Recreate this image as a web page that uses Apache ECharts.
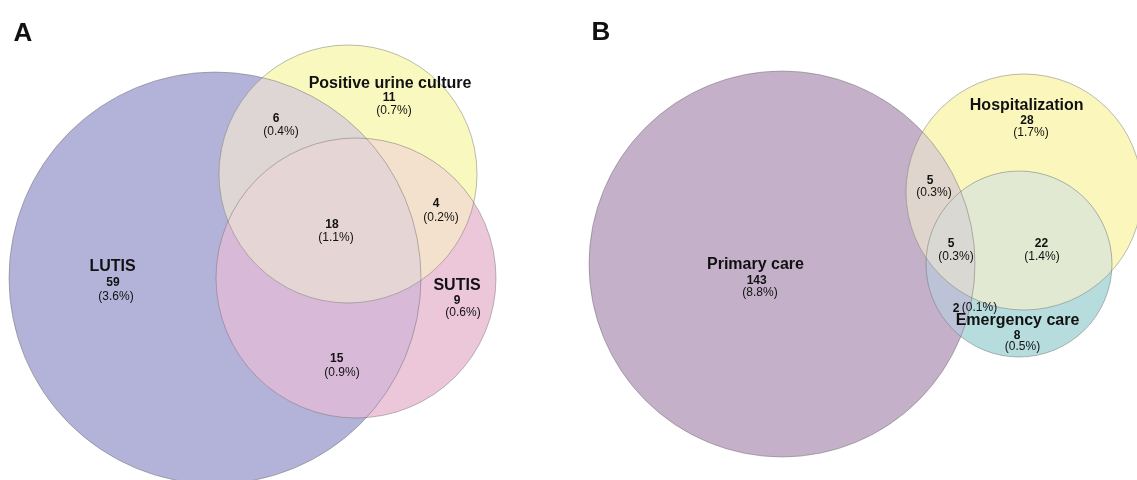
<!DOCTYPE html>
<html><head><meta charset="utf-8">
<script src="https://cdn.jsdelivr.net/npm/echarts@6/dist/echarts.min.js"></script>
<style>html,body{margin:0;padding:0;background:#fff}#c{width:1137px;height:480px}</style>
</head><body><div id="c"></div>
<script>
// ---------------- DATA ----------------
const panelTitles = ['A', 'B'];
const setsA = ['LUTIS', 'Positive urine culture', 'SUTIS'];
const setsB = ['Primary care', 'Hospitalization', 'Emergency care'];
// region order: only set1, only set2, only set3, 1∩2, 1∩3, 2∩3, 1∩2∩3
const countsA = [59, 11, 9, 6, 15, 4, 18];
const percentsA = ['3.6%', '0.7%', '0.6%', '0.4%', '0.9%', '0.2%', '1.1%'];
const countsB = [143, 28, 8, 5, 2, 22, 5];
const percentsB = ['8.8%', '1.7%', '0.5%', '0.3%', '0.1%', '1.4%', '0.3%'];

// ---------------- LAYOUT (axis units) ----------------
const regionMasks = [[0], [1], [2], [0, 1], [0, 2], [1, 2], [0, 1, 2]];
const circlesA = [[215, 278, 206], [348, 174, 129], [356, 278, 140]];
const circlesB = [[782, 264, 193], [1024, 192, 118], [1019, 264, 93]];
const titlePos = [[23, 34], [601, 33]];
const namePosA = [[112.5, 266.5], [390, 83.5], [457, 286]];
const countPosA = [[113, 282.5], [389, 98], [457, 301], [276, 119], [336.7, 358.5], [436, 204], [332, 224.5]];
const pctPosA = [[116, 296.5], [394, 110.5], [463, 313], [281, 131.5], [342, 372.5], [441, 217.5], [336, 237.5]];
const namePosB = [[755.5, 265], [1026.7, 105.5], [1017.5, 320.5]];
const countPosB = [[756.7, 280.5], [1027, 120.5], [1017, 336], [930, 181], [956, 308.5], [1041.5, 243.5], [951, 244]];
const pctPosB = [[760, 293], [1031, 132.5], [1022.5, 347], [934, 193], [979.5, 308], [1042, 257], [956, 257]];

// ---------------- STYLE ----------------
const colorsA = ['#b3b3d9', '#f9f9bf', '#ecc7da', '#ddd6d4', '#d8bad8', '#f4e1cd', '#e5d5d5'];
const colorsB = ['#c4b0c9', '#faf6bc', '#b7dcdd', '#e0d5cc', '#bcc3d6', '#e2e9d3', '#dad8d2'];
const FONT = '"Liberation Sans", Arial, sans-serif';

const panels = [
  { sets: setsA, counts: countsA, pcts: percentsA, circles: circlesA, colors: colorsA, namePos: namePosA, countPos: countPosA, pctPos: pctPosA },
  { sets: setsB, counts: countsB, pcts: percentsB, circles: circlesB, colors: colorsB, namePos: namePosB, countPos: countPosB, pctPos: pctPosB }
];

function intersectPoly(cs) {
  const pts = [];
  const N = 1440;
  cs.forEach((c, i) => {
    for (let k = 0; k < N; k++) {
      const a = 2 * Math.PI * k / N;
      const x = c.x + c.r * Math.cos(a), y = c.y + c.r * Math.sin(a);
      let inside = true;
      for (let j = 0; j < cs.length; j++) {
        if (j === i) continue;
        const d = cs[j];
        if ((x - d.x) * (x - d.x) + (y - d.y) * (y - d.y) > d.r * d.r) { inside = false; break; }
      }
      if (inside) pts.push([x, y]);
    }
  });
  let mx = 0, my = 0;
  pts.forEach(p => { mx += p[0]; my += p[1]; });
  mx /= pts.length; my /= pts.length;
  pts.sort((p, q) => Math.atan2(p[1] - my, p[0] - mx) - Math.atan2(q[1] - my, q[0] - mx));
  return pts;
}

function txt(pt, api, text, font) {
  const p = api.coord(pt);
  return {
    type: 'text',
    style: {
      text: text, x: p[0], y: p[1], fill: '#111', font: font,
      align: 'center', verticalAlign: 'middle', textAlign: 'center', textVerticalAlign: 'middle'
    }
  };
}

function renderPanel(params, api) {
  const P = panels[params.dataIndex];
  const circ = P.circles.map(c => {
    const ctr = api.coord([c[0], c[1]]);
    const r = Math.abs(api.size([c[2], 0])[0]);
    return { x: ctr[0], y: ctr[1], r: r };
  });
  const children = [];
  regionMasks.forEach((m, i) => {
    if (m.length === 1) {
      const c = circ[m[0]];
      children.push({ type: 'circle', shape: { cx: c.x, cy: c.y, r: c.r }, style: { fill: P.colors[i] } });
    } else {
      children.push({ type: 'polygon', shape: { points: intersectPoly(m.map(k => circ[k])) }, style: { fill: P.colors[i] } });
    }
  });
  circ.forEach(c => {
    children.push({ type: 'circle', shape: { cx: c.x, cy: c.y, r: c.r }, style: { fill: 'none', stroke: 'rgba(90,90,90,0.5)', lineWidth: 0.8 } });
  });
  children.push(txt(titlePos[params.dataIndex], api, panelTitles[params.dataIndex], 'bold 26px ' + FONT));
  P.sets.forEach((s, i) => children.push(txt(P.namePos[i], api, s, 'bold 16px ' + FONT)));
  P.counts.forEach((v, i) => {
    children.push(txt(P.countPos[i], api, String(v), 'bold 12px ' + FONT));
    children.push(txt(P.pctPos[i], api, '(' + P.pcts[i] + ')', 'normal 12px ' + FONT));
  });
  return { type: 'group', children: children };
}

const chart = echarts.init(document.getElementById('c'), null, { renderer: 'canvas' });
chart.setOption({
  animation: false,
  backgroundColor: '#ffffff',
  grid: { left: 0, right: 0, top: 0, bottom: 0 },
  xAxis: { type: 'value', min: 0, max: 1137, show: false },
  yAxis: { type: 'value', min: 0, max: 480, inverse: true, show: false },
  series: [{
    type: 'custom',
    silent: true,
    clip: false,
    renderItem: renderPanel,
    data: [[0, 0], [1, 0]]
  }]
});
</script></body></html>
